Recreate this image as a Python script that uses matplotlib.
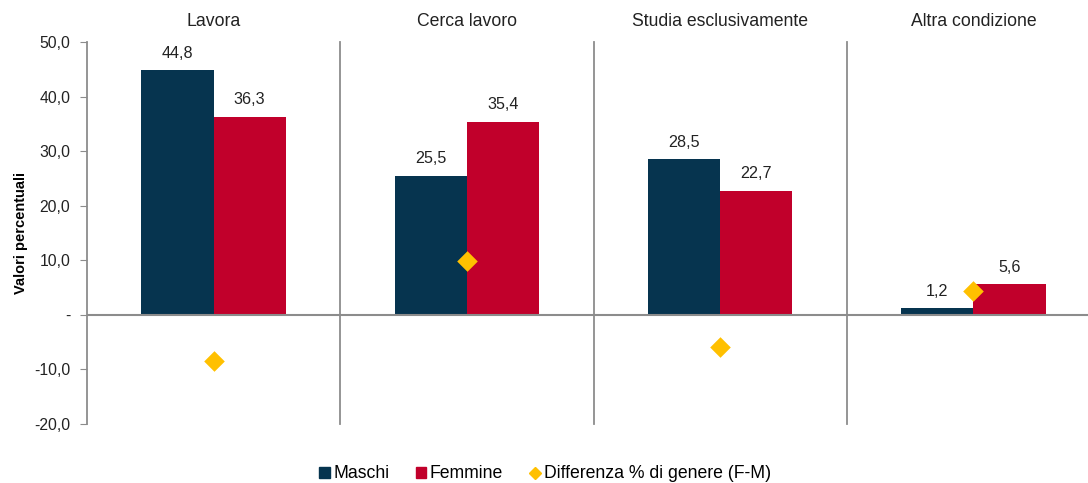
import matplotlib.pyplot as plt
from matplotlib.ticker import FuncFormatter
from matplotlib.lines import Line2D
from matplotlib.patches import Patch

plt.rcParams['font.family'] = ['Liberation Sans', 'DejaVu Sans']

categories = ["Lavora", "Cerca lavoro", "Studia esclusivamente", "Altra condizione"]
maschi = [44.8, 25.5, 28.5, 1.2]
femmine = [36.3, 35.4, 22.7, 5.6]
differenza = [-8.5, 9.9, -5.8, 4.4]
yticks = [-20, -10, 0, 10, 20, 30, 40, 50]

c_m = '#06344F'
c_f = '#C1002B'
c_d = '#FFC000'
gray = '#8C8C8C'

W, H = 1088, 483
fig = plt.figure(figsize=(W / 100, H / 100), dpi=100)
left_px, right_px = 87, 1100
top_px, bot_px = 42, 424
ax = fig.add_axes([left_px / W, 1 - bot_px / H, (right_px - left_px) / W, (bot_px - top_px) / H])

n = len(categories)
x = list(range(n))
bw = 0.285
ax.bar([i - bw / 2 for i in x], maschi, width=bw, color=c_m, zorder=2)
ax.bar([i + bw / 2 for i in x], femmine, width=bw, color=c_f, zorder=2)
ax.scatter(x, differenza, marker='D', s=110, color=c_d, zorder=4, linewidths=0)

for i in x:
    ax.annotate(f"{maschi[i]:.1f}".replace('.', ','), (i - bw / 2, maschi[i]), xytext=(0, 7),
                textcoords='offset points', ha='center', va='bottom', fontsize=11.6, color='#222222')
    ax.annotate(f"{femmine[i]:.1f}".replace('.', ','), (i + bw / 2, femmine[i]), xytext=(0, 7),
                textcoords='offset points', ha='center', va='bottom', fontsize=11.6, color='#222222')
    ax.text(i, 1.032, categories[i], transform=ax.get_xaxis_transform(), ha='center', va='bottom',
            fontsize=12.7, color='#222222')

for b in range(1, n):
    ax.plot([b - 0.5, b - 0.5], [-20, 50], color=gray, lw=1.3, zorder=1, clip_on=False)

ax.axhline(0, color=gray, lw=1.5, zorder=3)
ax.set_xlim(-0.5, n - 0.5)
ax.set_ylim(-20, 50)
ax.set_yticks(yticks)
ax.yaxis.set_major_formatter(FuncFormatter(lambda v, p: '-' if v == 0 else f"{v:.1f}".replace('.', ',')))
ax.tick_params(axis='y', direction='out', length=5, color=gray, labelsize=11.3, labelcolor='#222222', pad=7)
ax.set_xticks([])
for s in ['top', 'right', 'bottom']:
    ax.spines[s].set_visible(False)
ax.spines['left'].set_color(gray)
ax.spines['left'].set_linewidth(1.3)
ax.set_ylabel('Valori percentuali', fontsize=10.5, fontweight='bold')
ax.yaxis.set_label_coords(-0.058, 0.5)

handles = [Patch(color=c_m, label='Maschi'), Patch(color=c_f, label='Femmine'),
           Line2D([], [], marker='D', color=c_d, linestyle='none', markersize=6, label='Differenza % di genere (F-M)')]
fig.legend(handles=handles, loc='center', bbox_to_anchor=(545 / W, 1 - 474 / H), ncol=3, frameon=False,
           fontsize=12.7, handlelength=0.6, handleheight=0.6, handletextpad=0.2, columnspacing=1.5,
           borderpad=0.1)

fig.savefig('out.png', dpi=100)
